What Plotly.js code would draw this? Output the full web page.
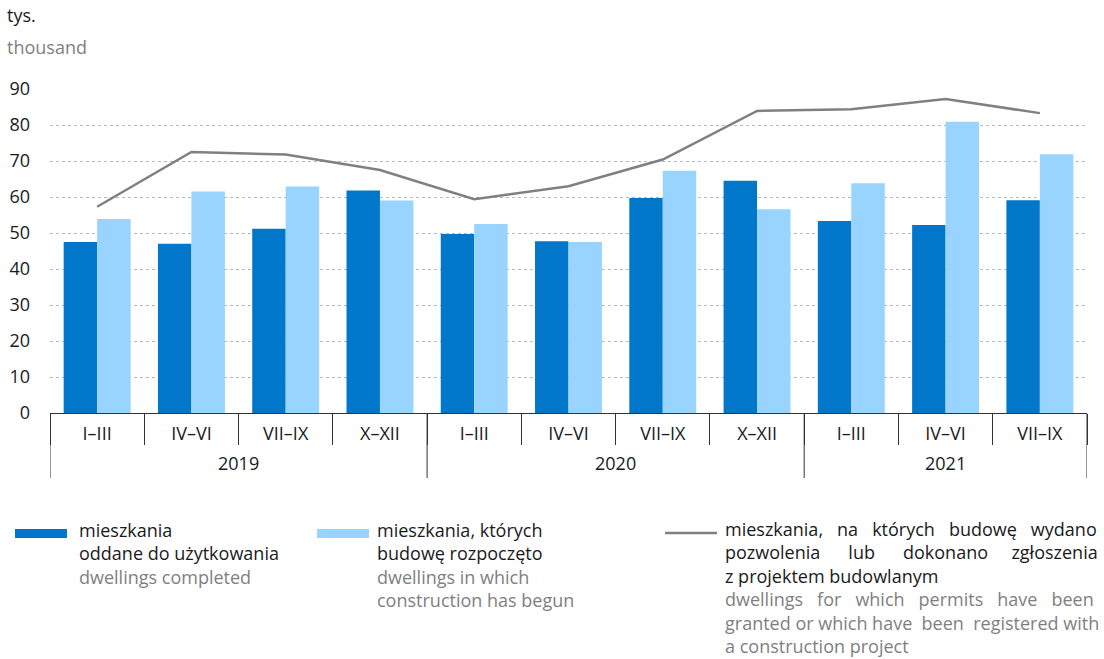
<!DOCTYPE html>
<html><head><meta charset="utf-8">
<script src="https://cdn.plot.ly/plotly-3.0.1.min.js"></script>
<style>body{margin:0;background:#fff}#chart{width:1104px;height:659px}</style>
</head><body><div id="chart"></div>
<script>
const years = ['2019','2019','2019','2019','2020','2020','2020','2020','2021','2021','2021'];
const quarters = ['I–III','IV–VI','VII–IX','X–XII','I–III','IV–VI','VII–IX','X–XII','I–III','IV–VI','VII–IX'];
const completed = [47.5, 47.0, 51.2, 61.8, 49.7, 47.7, 59.7, 64.5, 53.3, 52.2, 59.1];
const started = [53.9, 61.5, 62.9, 59.0, 52.5, 47.5, 67.3, 56.6, 63.8, 80.9, 71.9];
const permits = [57.3, 72.5, 71.8, 67.5, 59.4, 63.0, 70.4, 83.9, 84.4, 87.2, 83.3];
const yTicks = [0,10,20,30,40,50,60,70,80,90];

const FONT = 'Open Sans, Noto Sans, sans-serif';
const DARK = '#0077c8', LIGHT = '#99d3ff', GREY = '#808080', TXT = '#1a1a1a', TXT2 = '#7f7f7f';
const FS = 18;

// unique category ids, labelled with quarters
const ids = years.map((y, i) => y + ' ' + quarters[i]);

// year groups: first/last index of each year
const groups = [];
years.forEach((y, i) => {
  const g = groups[groups.length - 1];
  if (g && g.year === y) g.last = i; else groups.push({year: y, first: i, last: i});
});

const traces = [
  {type:'bar', x:ids, y:completed, marker:{color:DARK}, name:'completed', hoverinfo:'y'},
  {type:'bar', x:ids, y:started, marker:{color:LIGHT}, name:'started', hoverinfo:'y'},
  {type:'scatter', mode:'lines', x:ids, y:permits, line:{color:GREY, width:2.5}, name:'permits', hoverinfo:'y'}
];

const sp = n => '&nbsp;'.repeat(n);
const px = v => (v - 50) / 1037;      // paper x from pixel
const py = v => (413 - v) / 324;      // paper y from pixel

const annotations = [
  {xref:'paper', yref:'paper', x:px(5), xanchor:'left', y:py(15), yanchor:'middle', text:'tys.', showarrow:false, font:{size:FS, color:TXT}},
  {xref:'paper', yref:'paper', x:px(5), xanchor:'left', y:py(47), yanchor:'middle', text:'thousand', showarrow:false, font:{size:FS, color:TXT2}},
  {xref:'paper', yref:'paper', x:px(77), xanchor:'left', y:py(516), yanchor:'top', align:'left', showarrow:false,
   text:'mieszkania<br>oddane do użytkowania<br><span style="color:'+TXT2+'">dwellings completed</span>', font:{size:FS, color:TXT}},
  {xref:'paper', yref:'paper', x:px(375), xanchor:'left', y:py(516), yanchor:'top', align:'left', showarrow:false,
   text:'mieszkania, których<br>budowę rozpoczęto<br><span style="color:'+TXT2+'">dwellings in which<br>construction has begun</span>', font:{size:FS, color:TXT}},
  {xref:'paper', yref:'paper', x:px(724), xanchor:'left', y:py(516), yanchor:'top', align:'left', showarrow:false, borderpad:0,
   text:'mieszkania,'+sp(3)+'na'+sp(3)+'których'+sp(3)+'budowę'+sp(3)+'wydano<br>pozwolenia'+sp(6)+'lub'+sp(6)+'dokonano'+sp(5)+'zgłoszenia<br>z projektem budowlanym<br>' +
        '<span style="color:'+TXT2+'">dwellings'+sp(3)+'for'+sp(3)+'which'+sp(3)+'permits'+sp(3)+'have'+sp(3)+'been<br>granted or which have'+sp(2)+'been'+sp(2)+'registered with<br>a construction project</span>',
   font:{size:FS, color:TXT}}
];
groups.forEach(g => {
  annotations.push({xref:'x', yref:'paper', x:(g.first + g.last) / 2, y:py(463), yanchor:'middle', xanchor:'center',
    text:g.year, showarrow:false, font:{size:FS, color:TXT}});
});

const shapes = [
  {type:'rect', xref:'paper', yref:'paper', x0:px(15), x1:px(67), y0:py(538), y1:py(529), fillcolor:DARK, line:{width:0}},
  {type:'rect', xref:'paper', yref:'paper', x0:px(317), x1:px(369), y0:py(538), y1:py(529), fillcolor:LIGHT, line:{width:0}},
  {type:'line', xref:'paper', yref:'paper', x0:px(665), x1:px(717), y0:py(533), y1:py(533), line:{color:GREY, width:2.5}}
];
const dividers = groups.map(g => g.first - 0.5).concat([groups[groups.length - 1].last + 0.5]);
dividers.forEach(d => {
  shapes.push({type:'line', xref:'x', yref:'paper', x0:d, x1:d, y0:0, y1:py(478), line:{color:'#333', width:1}});
});

const layout = {
  width:1104, height:659,
  margin:{l:50, r:17, t:89, b:246},
  paper_bgcolor:'#fff', plot_bgcolor:'#fff',
  font:{family:FONT, size:FS, color:TXT},
  showlegend:false,
  barmode:'group', bargap:0.29, bargroupgap:0,
  xaxis:{
    type:'category', tickvals:ids, ticktext:quarters, range:[-0.5, ids.length - 0.5],
    showline:true, linecolor:'#333', linewidth:1,
    ticks:'outside', tickson:'boundaries', ticklen:31, tickcolor:'#333', tickwidth:1,
    tickfont:{size:FS, color:TXT},
    ticklabelstandoff:4,
    showgrid:false, zeroline:false
  },
  yaxis:{
    range:[0,90], tickvals:yTicks, ticktext:yTicks.map(String),
    showgrid:true, gridcolor:'#b8b8b8', griddash:'dot', gridwidth:1,
    zeroline:true, zerolinecolor:'#333', zerolinewidth:1,
    showline:false, ticks:'', ticklabelstandoff:19,
    tickfont:{size:FS, color:TXT}
  },
  annotations: annotations,
  shapes: shapes
};
Plotly.newPlot('chart', traces, layout, {displayModeBar:false, staticPlot:true});
</script></body></html>
